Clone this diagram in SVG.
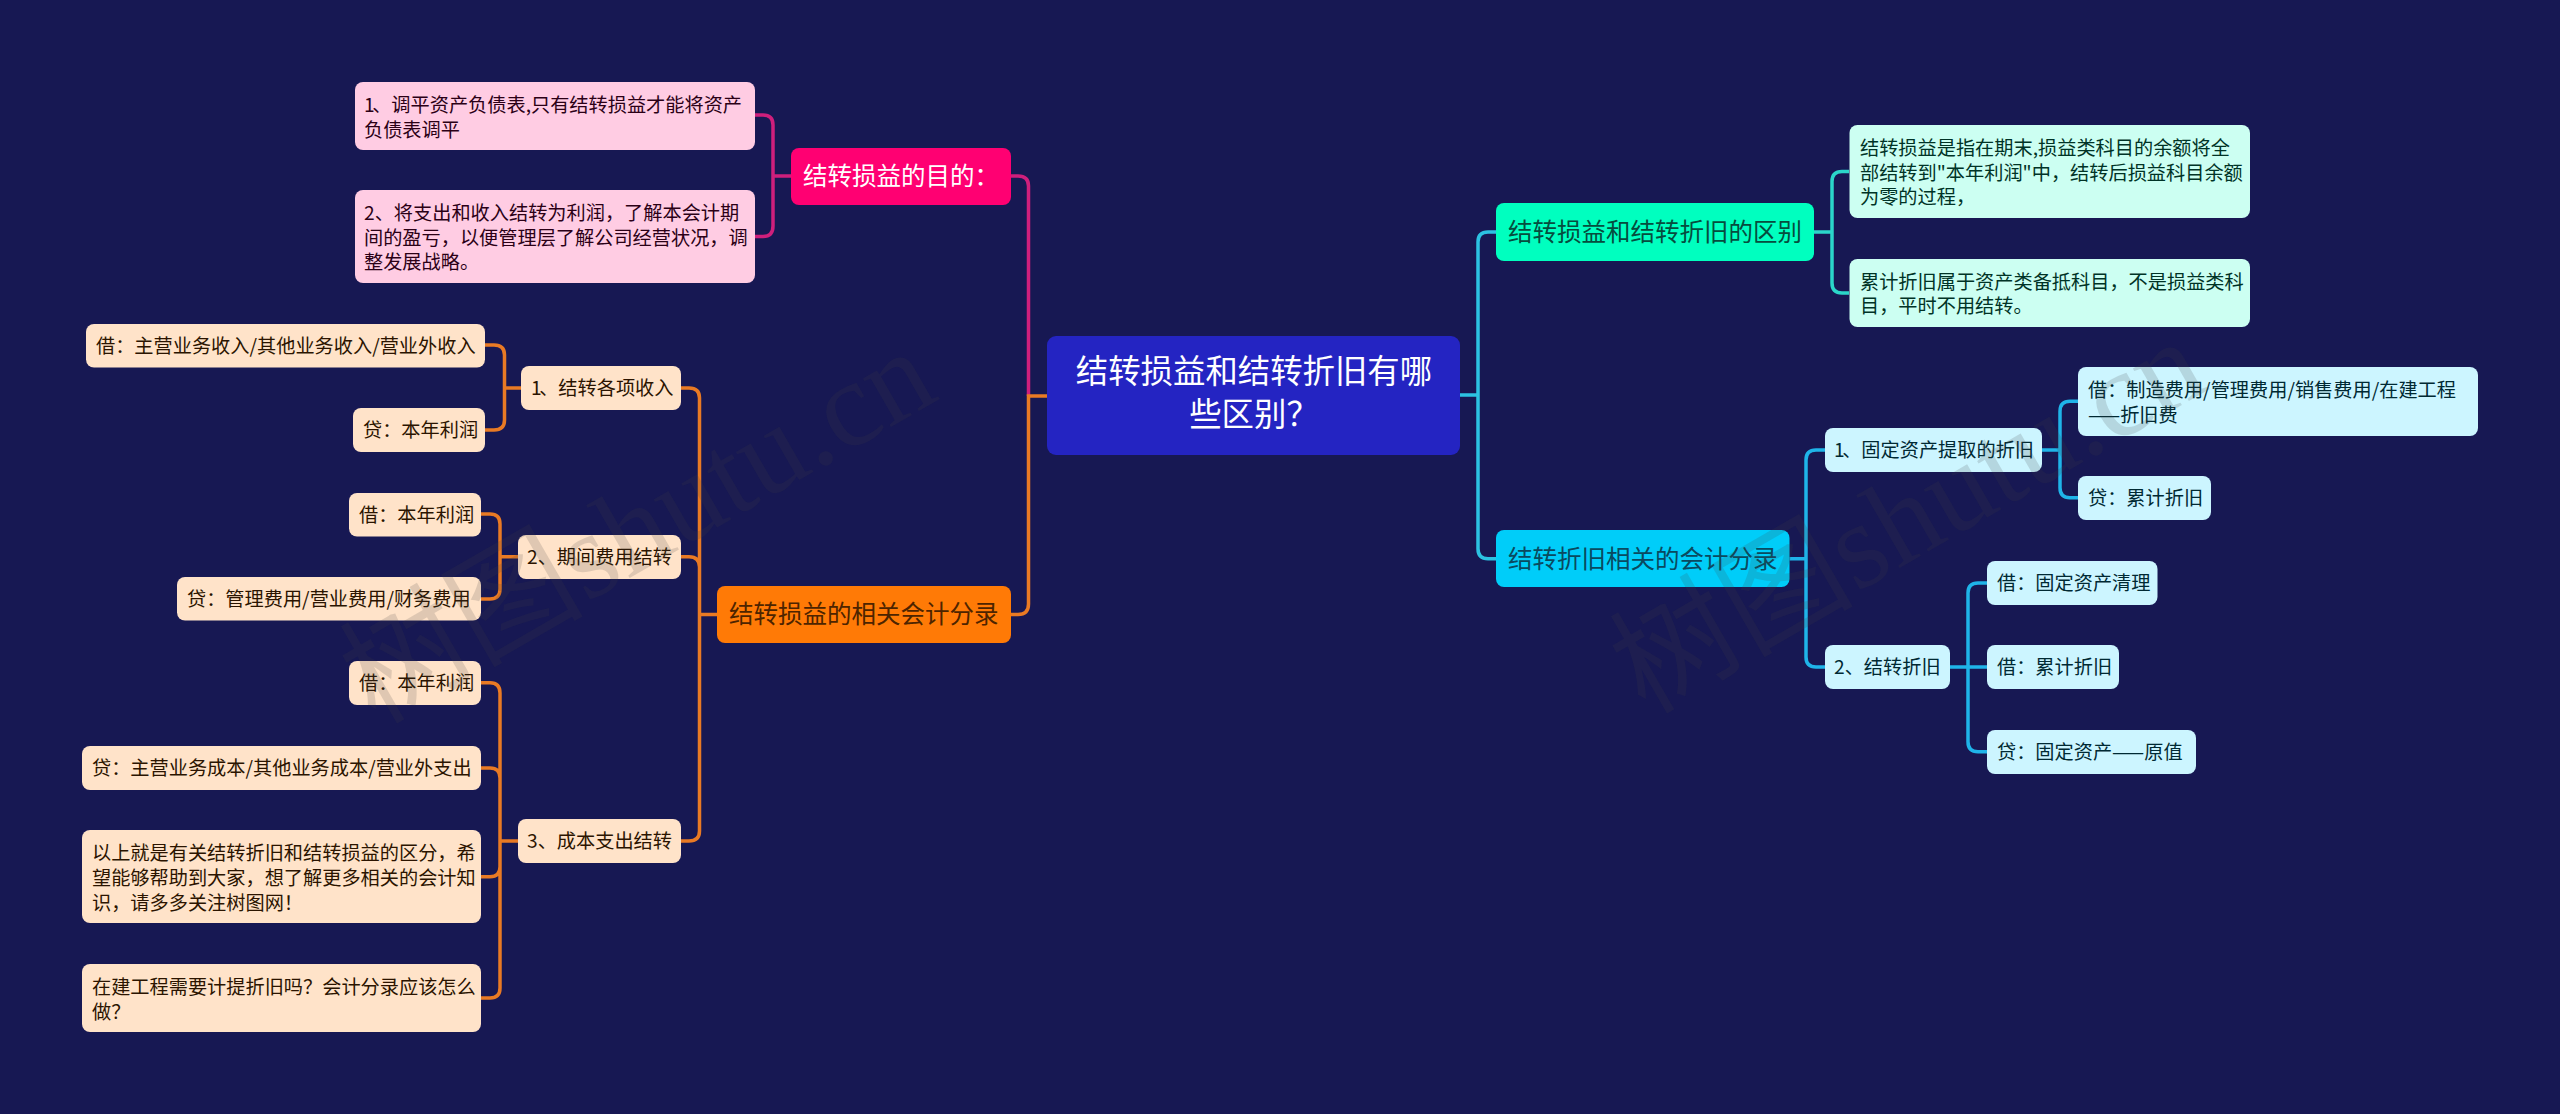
<svg xmlns="http://www.w3.org/2000/svg" width="2560" height="1114" viewBox="0 0 2560 1114">
<style>
text{font-family:"Noto Sans CJK SC","Noto Sans",sans-serif;font-size:19.2px}
.c{fill:none;stroke-width:3.5;stroke-linecap:butt}
.mg{stroke:#cf1f7c}.or{stroke:#e97a24}.tl{stroke:#2bd6c9}.rt{stroke:#2cc2e2}.bl{stroke:#1fb4e9}
.root rect{fill:#2424c2}.root text{fill:#fff;font-size:32.4px;text-anchor:middle}
.b text{font-size:24.5px}
.b1 rect{fill:#ff0072}.b1 text{fill:#fff}
.b2 rect{fill:#ff7a06}.b2 text{fill:#4d2400}
.b3 rect{fill:#00ffbf}.b3 text{fill:#064d3e}
.b4 rect{fill:#00cdf9}.b4 text{fill:#0a4a60}
.pk rect{fill:#ffcce3}.pk text{fill:#2b0016}
.pe rect{fill:#ffe3c9}.pe text{fill:#2b1400}
.mt rect{fill:#ccfff2}.mt text{fill:#003326}
.lb rect{fill:#ccf5ff}.lb text{fill:#002933}
.wm{font-family:"Liberation Serif","Noto Sans CJK SC",serif;font-size:122px;fill:#404040;fill-opacity:.17}
</style>
<rect width="2560" height="1114" fill="#171853"/>
<g id="connectors">
<path class="c mg" d="M1011 176H1018Q1028.500 176 1028.500 186V396"/>
<path class="c or" d="M1011 614.500H1018Q1028.500 614.500 1028.500 604V396H1047"/>
<path class="c mg" d="M755 115H763Q773 115 773 125V226Q773 236.500 763 236.500H755M773 176H791"/>
<path class="c or" d="M681 388H689Q699.500 388 699.500 398V831Q699.500 841 689 841H681M681 556.700H689Q699.500 556.700 699.500 567M699.500 614.500H717"/>
<path class="c or" d="M485 345H494Q504.500 345 504.500 355V420Q504.500 430 494 430H485M504.500 388H521"/>
<path class="c or" d="M481 514H490Q500 514 500 524V589Q500 599 490 599H481M500 556.700H518"/>
<path class="c or" d="M481 682.700H490Q500 682.700 500 693V988Q500 998 490 998H481M481 768H490Q500 768 500 778M481 876.700H490Q500 876.700 500 866.700M500 841H518"/>
<path class="c rt" d="M1460 395H1478M1496 232H1488Q1478 232 1478 242V548.700Q1478 558.700 1488 558.700H1496"/>
<path class="c tl" d="M1849 171.500H1842Q1832 171.500 1832 181.500V283Q1832 293 1842 293H1849M1814 232H1832"/>
<path class="c bl" d="M1825 450H1816Q1806 450 1806 460V657Q1806 667 1816 667H1825M1789.500 558.700H1806"/>
<path class="c bl" d="M2078 401.300H2070Q2060 401.300 2060 411.300V487.700Q2060 497.700 2070 497.700H2078M2042 450H2060"/>
<path class="c bl" d="M1987 583H1978Q1968 583 1968 593V741.700Q1968 751.700 1978 751.700H1987M1950 667H1987"/>
</g>
<g id="root" class="root"><rect x="1047" y="336" width="413" height="119" rx="9"/><text x="1254" y="383">结转损益和结转折旧有哪</text><text x="1254" y="426">些区别？</text></g>
<g id="b-purpose" class="b b1"><rect x="791" y="148" width="220" height="57" rx="8"/><text x="803" y="185">结转损益的目的：</text></g>
<g id="b-entries" class="b b2"><rect x="717" y="586" width="294" height="57" rx="8"/><text x="729" y="623">结转损益的相关会计分录</text></g>
<g id="b-diff" class="b b3"><rect x="1496" y="203" width="318" height="58" rx="8"/><text x="1508" y="241">结转损益和结转折旧的区别</text></g>
<g id="b-dep" class="b b4"><rect x="1496" y="530" width="293.500" height="57" rx="8"/><text x="1508" y="568">结转折旧相关的会计分录</text></g>
<g id="p1" class="pk"><rect x="355" y="82" width="400" height="68" rx="8"/><text x="364" y="112">1<tspan dx="-2.500">、调平资产负债表,只有结转损益才能将资产</tspan></text><text x="364" y="136.500">负债表调平</text></g>
<g id="p2" class="pk"><rect x="355" y="190" width="400" height="93" rx="8"/><text x="364" y="220">2、将支出和收入结转为利润，了解本会计期</text><text x="364" y="244.500">间的盈亏，以便管理层了解公司经营状况，调</text><text x="364" y="269">整发展战略。</text></g>
<g id="e1" class="pe"><rect x="521" y="366" width="160" height="44" rx="8"/><text x="531" y="395">1<tspan dx="-2.500">、结转各项收入</tspan></text></g>
<g id="e2" class="pe"><rect x="518" y="535" width="163" height="44" rx="8"/><text x="527" y="564">2、期间费用结转</text></g>
<g id="e3" class="pe"><rect x="518" y="819" width="163" height="44" rx="8"/><text x="527" y="848">3、成本支出结转</text></g>
<g id="e11" class="pe"><rect x="86" y="324" width="399" height="43.500" rx="8"/><text x="96" y="353">借：主营业务收入/其他业务收入/营业外收入</text></g>
<g id="e12" class="pe"><rect x="353" y="408" width="132" height="44" rx="8"/><text x="363" y="437">贷：本年利润</text></g>
<g id="e21" class="pe"><rect x="349" y="493" width="132" height="43.500" rx="8"/><text x="359" y="522">借：本年利润</text></g>
<g id="e22" class="pe"><rect x="177" y="577" width="304" height="43.500" rx="8"/><text x="187" y="606">贷：管理费用/营业费用/财务费用</text></g>
<g id="e31" class="pe"><rect x="349" y="661" width="132" height="44" rx="8"/><text x="359" y="690">借：本年利润</text></g>
<g id="e32" class="pe"><rect x="82" y="746" width="399" height="44" rx="8"/><text x="92" y="775">贷：主营业务成本/其他业务成本/营业外支出</text></g>
<g id="e33" class="pe"><rect x="82" y="830" width="399" height="93" rx="8"/><text x="92" y="860">以上就是有关结转折旧和结转损益的区分，希</text><text x="92" y="885">望能够帮助到大家，想了解更多相关的会计知</text><text x="92" y="910">识，请多多关注树图网！</text></g>
<g id="e34" class="pe"><rect x="82" y="964" width="399" height="68" rx="8"/><text x="92" y="994">在建工程需要计提折旧吗？会计分录应该怎么</text><text x="92" y="1018.500">做？</text></g>
<g id="d1" class="mt"><rect x="1849.500" y="125" width="400.500" height="93" rx="8"/><text x="1860" y="155">结转损益是指在期末,损益类科目的余额将全</text><text x="1860" y="179.500">部结转到"本年利润"中，结转后损益科目余额</text><text x="1860" y="204">为零的过程，</text></g>
<g id="d2" class="mt"><rect x="1849.500" y="259" width="400.500" height="68" rx="8"/><text x="1860" y="288.500">累计折旧属于资产类备抵科目，不是损益类科</text><text x="1860" y="313">目，平时不用结转。</text></g>
<g id="f1" class="lb"><rect x="1825" y="428" width="217" height="44" rx="8"/><text x="1834" y="457">1<tspan dx="-2.500">、固定资产提取的折旧</tspan></text></g>
<g id="f2" class="lb"><rect x="1825" y="645" width="125" height="44" rx="8"/><text x="1834" y="674">2、结转折旧</text></g>
<g id="f11" class="lb"><rect x="2078" y="367" width="400" height="69" rx="8"/><text x="2088" y="397">借：制造费用/管理费用/销售费用/在建工程</text><text x="2088" y="421.500">——折旧费</text></g>
<g id="f12" class="lb"><rect x="2078" y="476" width="133" height="44" rx="8"/><text x="2088" y="505">贷：累计折旧</text></g>
<g id="f21" class="lb"><rect x="1987" y="561" width="170.500" height="44" rx="8"/><text x="1997" y="590">借：固定资产清理</text></g>
<g id="f22" class="lb"><rect x="1987" y="645" width="132" height="44" rx="8"/><text x="1997" y="674">借：累计折旧</text></g>
<g id="f23" class="lb"><rect x="1987" y="730" width="209" height="44" rx="8"/><text x="1997" y="759">贷：固定资产——原值</text></g>
<text class="wm" transform="translate(375 725) rotate(-30)">树图shutu.cn</text>
<text class="wm" transform="translate(1645 715) rotate(-30)">树图shutu.cn</text>
</svg>
